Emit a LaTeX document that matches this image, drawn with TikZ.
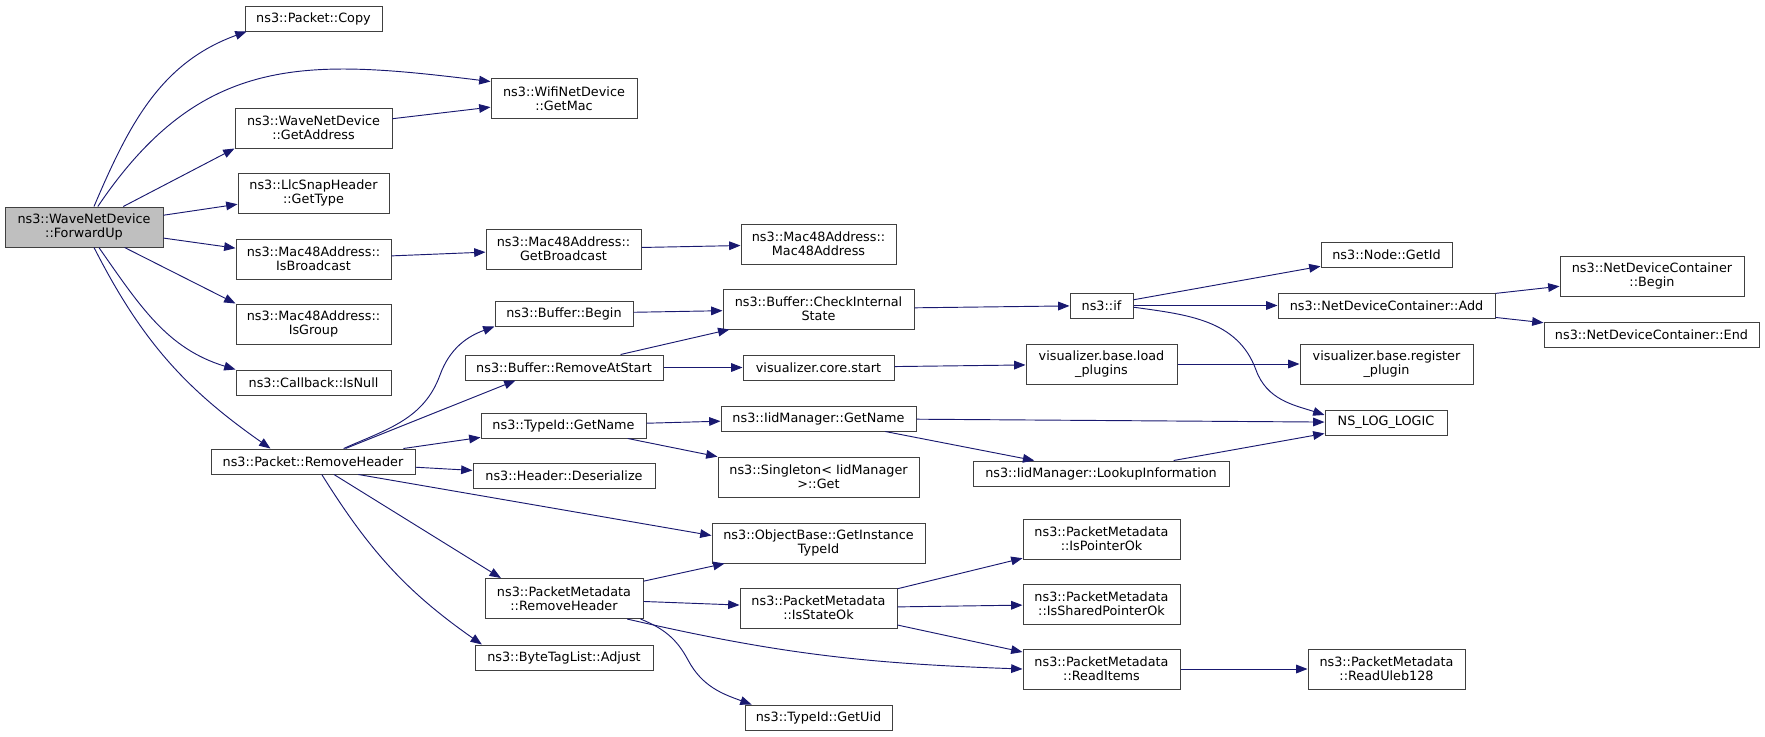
\documentclass[tikz,border=0pt]{standalone}
\usepackage{fontspec}
\setmainfont{DejaVu Sans}
\usepackage{xcolor}
\definecolor{edgeBlue} {HTML}{191970}
\definecolor{rootBack} {HTML}{BFBFBF}
\definecolor{boxLine}  {HTML}{404040}
\usetikzlibrary{arrows.meta}
\tikzset{
    fn/.style={draw=boxLine, line width=0.75pt, rectangle, inner sep=0pt,
               font=\fontsize{9.6}{10.3}\selectfont, align=center,
               minimum height=18.75pt},
    fn2/.style={fn, minimum height=30pt},
    froot/.style={fn2, fill=rootBack},
    bw/.style={minimum width=#1*0.75pt},
    calledge/.style={-{Triangle[length=8.5pt, width=6.5pt]}, edgeBlue,
                     line width=0.7pt},
}
\begin{document}
\begin{tikzpicture}[x=0.75pt, y=-0.75pt]
\useasboundingbox (0,0) rectangle (1765,736);

% --- caller ---
\node[froot, bw=158] (fwd) at (84,227) {ns3::WaveNetDevice\\::ForwardUp};

% --- first level ---
\node[fn,  bw=137] (copy)    at (313.5,18.5)  {ns3::Packet::Copy};
\node[fn2, bw=157] (getaddr) at (313.5,128)   {ns3::WaveNetDevice\\::GetAddress};
\node[fn2, bw=151] (gettype) at (313.5,193)   {ns3::LlcSnapHeader\\::GetType};
\node[fn2, bw=155] (isbcast) at (313.5,259)   {ns3::Mac48Address::\\IsBroadcast};
\node[fn2, bw=155] (isgroup) at (313.5,324)   {ns3::Mac48Address::\\IsGroup};
\node[fn,  bw=155] (isnull)  at (313.5,382.5) {ns3::Callback::IsNull};
\node[fn,  bw=204] (rmhdr)   at (313,461.5)   {ns3::Packet::RemoveHeader};

% --- second level ---
\node[fn2, bw=146] (getmac)   at (564,98.5)   {ns3::WifiNetDevice\\::GetMac};
\node[fn2, bw=155] (getbcast) at (563.5,249)  {ns3::Mac48Address::\\GetBroadcast};
\node[fn,  bw=138] (bufbegin) at (564,313.5)  {ns3::Buffer::Begin};
\node[fn,  bw=198] (rmstart)  at (564,367.5)  {ns3::Buffer::RemoveAtStart};
\node[fn,  bw=165] (getname)  at (563.5,425.5){ns3::TypeId::GetName};
\node[fn,  bw=182] (deser)    at (564,475.5)  {ns3::Header::Deserialize};
\node[fn2, bw=158] (pmrmhdr)  at (564,598.5)  {ns3::PacketMetadata\\::RemoveHeader};
\node[fn,  bw=178] (adjust)   at (564,657.5)  {ns3::ByteTagList::Adjust};

% --- third level ---
\node[fn2, bw=155] (mac48)      at (818.5,244)   {ns3::Mac48Address::\\Mac48Address};
\node[fn2, bw=191] (checkint)   at (818.5,309)   {ns3::Buffer::CheckInternal\\State};
\node[fn,  bw=151] (vcstart)    at (818.5,367.5) {visualizer.core.start};
\node[fn,  bw=195] (iidgetname) at (818.5,418.5) {ns3::IidManager::GetName};
\node[fn2, bw=201] (singleton)  at (818.5,477)   {ns3::Singleton< IidManager\\>::Get};
\node[fn2, bw=213] (instid)     at (818.5,543)   {ns3::ObjectBase::GetInstance\\TypeId};
\node[fn2, bw=157] (isstate)    at (818.5,608)   {ns3::PacketMetadata\\::IsStateOk};
\node[fn,  bw=147] (getuid)     at (818.5,717.5) {ns3::TypeId::GetUid};

% --- fourth level ---
\node[fn,  bw=63]  (nsif)      at (1101.5,305.5) {ns3::if};
\node[fn2, bw=151] (loadplug)  at (1101.5,364)   {visualizer.base.load\\\_plugins};
\node[fn,  bw=256] (lookup)    at (1101,473.5)   {ns3::IidManager::LookupInformation};
\node[fn2, bw=157] (ispointer) at (1101.5,539)   {ns3::PacketMetadata\\::IsPointerOk};
\node[fn2, bw=157] (isshared)  at (1101.5,604)   {ns3::PacketMetadata\\::IsSharedPointerOk};
\node[fn2, bw=157] (readitems) at (1101.5,669)   {ns3::PacketMetadata\\::ReadItems};

% --- fifth and sixth level ---
\node[fn,  bw=131] (getid)    at (1386.5,254.5) {ns3::Node::GetId};
\node[fn,  bw=217] (ndcadd)   at (1386.5,305.5) {ns3::NetDeviceContainer::Add};
\node[fn2, bw=173] (regplug)  at (1386.5,364)   {visualizer.base.register\\\_plugin};
\node[fn,  bw=122] (nslog)    at (1386,422.5)   {NS\_LOG\_LOGIC};
\node[fn2, bw=157] (readuleb) at (1386.5,669)   {ns3::PacketMetadata\\::ReadUleb128};
\node[fn2, bw=184] (ndcbegin) at (1652,276)     {ns3::NetDeviceContainer\\::Begin};
\node[fn,  bw=215] (ndcend)   at (1651.5,334.5) {ns3::NetDeviceContainer::End};

% --- calls from ForwardUp ---
\draw[calledge] (fwd.64) to[out=67, in=200] (copy.191);
\draw[calledge] (fwd.56) to[out=56, in=173, looseness=1.15] (getmac.167);
\draw[calledge] (fwd) -- (getaddr.south west);
\draw[calledge] (fwd) -- (gettype);
\draw[calledge] (fwd) -- (isbcast);
\draw[calledge] (fwd) -- (isgroup.north west);
\draw[calledge] (fwd.-54) to[out=-55, in=163] (isnull.north west);
\draw[calledge] (fwd.-64) to[out=-63, in=145] (rmhdr.163);

\draw[calledge] (getaddr) -- (getmac);
\draw[calledge] (isbcast) -- (getbcast);
\draw[calledge] (getbcast) -- (mac48);

% --- calls from Packet::RemoveHeader ---
\draw[calledge] (rmhdr.23) to[out=24, in=-110] (440,375)
                to[out=70, in=200] (bufbegin.south west);
\draw[calledge] (rmhdr) -- (rmstart.195);
\draw[calledge] (rmhdr) -- (getname);
\draw[calledge] (rmhdr) -- (deser);
\draw[calledge] (rmhdr.-16) -- (instid.176);
\draw[calledge] (rmhdr) -- (pmrmhdr.162);
\draw[calledge] (rmhdr.-56) to[out=-58, in=145] (adjust.171);

% --- second level calls ---
\draw[calledge] (bufbegin) -- (checkint);
\draw[calledge] (rmstart) -- (checkint);
\draw[calledge] (rmstart) -- (vcstart);
\draw[calledge] (getname) -- (iidgetname);
\draw[calledge] (getname) -- (singleton);
\draw[calledge] (pmrmhdr) -- (instid);
\draw[calledge] (pmrmhdr) -- (isstate);
\draw[calledge] (pmrmhdr.-18) to[out=-13, in=178] (readitems.west);
\draw[calledge] (pmrmhdr.-15) to[out=-22, in=118] (688,660)
                to[out=-62, in=160] (getuid.169);

% --- third level calls ---
\draw[calledge] (checkint) -- (nsif);
\draw[calledge] (vcstart) -- (loadplug);
\draw[calledge] (iidgetname) -- (nslog);
\draw[calledge] (iidgetname) -- (lookup);
\draw[calledge] (isstate) -- (ispointer);
\draw[calledge] (isstate) -- (isshared);
\draw[calledge] (isstate) -- (readitems);

% --- fourth level calls ---
\draw[calledge] (nsif) -- (getid);
\draw[calledge] (nsif) -- (ndcadd);
\draw[calledge] (nsif.-3) to[out=-8, in=110] (1256,370)
                to[out=-70, in=162] (nslog.173);
\draw[calledge] (loadplug) -- (regplug);
\draw[calledge] (lookup) -- (nslog);
\draw[calledge] (readitems) -- (readuleb);

\draw[calledge] (ndcadd) -- (ndcbegin);
\draw[calledge] (ndcadd) -- (ndcend);
\end{tikzpicture}
\end{document}
